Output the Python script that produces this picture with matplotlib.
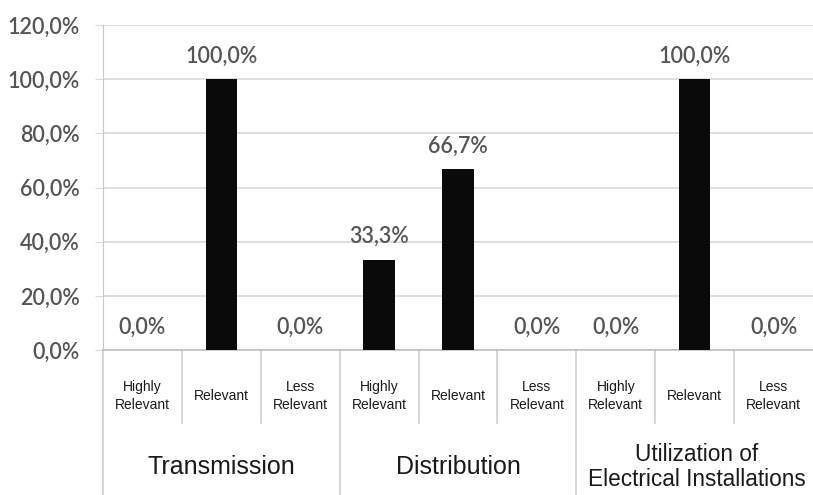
import matplotlib
matplotlib.use("Agg")
import matplotlib.pyplot as plt
from matplotlib.lines import Line2D
import matplotlib.transforms as mtransforms

groups = ["Transmission", "Distribution", "Utilization of\nElectrical Installations"]
group_sizes = [18, 18, 16.3]
subcats = ["Highly\nRelevant", "Relevant", "Less\nRelevant"]
values = [0.0, 100.0, 0.0, 33.3, 66.7, 0.0, 0.0, 100.0, 0.0]
yticks = [0, 20, 40, 60, 80, 100, 120]

def pct(v):
    return f"{v:.1f}%".replace(".", ",")

fig = plt.figure(figsize=(8.13, 4.95), dpi=100)
ax = fig.add_axes([103/813, 1-350/495, 1-103/813, (350-25)/495])

n = len(values)
x = list(range(n))
ax.bar(x, values, width=0.4, color="#0a0a0a", zorder=3)
ax.set_xlim(-0.5, n-0.5)
ax.set_ylim(0, 120)
ax.set_yticks(yticks)
ax.set_yticklabels([pct(v) for v in yticks], fontfamily="Lato", fontsize=15.5,
                   color="#555555", fontweight="semibold")
ax.tick_params(axis="y", length=6, color="#d9d9d9", pad=11)
ax.set_xticks([])
ax.grid(axis="y", color="#d9d9d9", linewidth=1.2, zorder=0)
for s in ["top", "right"]:
    ax.spines[s].set_visible(False)
ax.spines["left"].set_color("#c8c8c8")
ax.spines["bottom"].set_color("#c0c0c0")
ax.spines["bottom"].set_linewidth(1.2)

for xi, v in zip(x, values):
    ax.annotate(pct(v), (xi, v), xytext=(0, 12), textcoords="offset points",
                ha="center", va="baseline", fontfamily="Lato", fontsize=15.5,
                color="#555555", fontweight="semibold")

trans = mtransforms.blended_transform_factory(ax.transData, fig.transFigure)
# separators
for i in range(n):
    xb = i - 0.5
    long = (i % 3 == 0)
    y0 = 1 - 350/495
    y1 = 0.0 if long else 1 - 423/495
    ax.add_line(Line2D([xb, xb], [y0, y1], transform=trans, color="#cfcfcf",
                       linewidth=1.2, clip_on=False))

# sub-category labels
for i in range(n):
    ax.text(i, 1 - 396/495, subcats[i % 3], transform=trans, ha="center", va="center",
            fontfamily="Liberation Sans", fontsize=10, color="#1a1a1a", linespacing=1.3)

# group labels
for g, name in enumerate(groups):
    ax.text(g*3 + 1.03 if g == 2 else g*3 + 1, 1 - 467/495, name, transform=trans,
            ha="center", va="center", fontfamily="Liberation Sans",
            fontsize=group_sizes[g], color="#1a1a1a", linespacing=1.1)

fig.savefig("out.png", dpi=100)
